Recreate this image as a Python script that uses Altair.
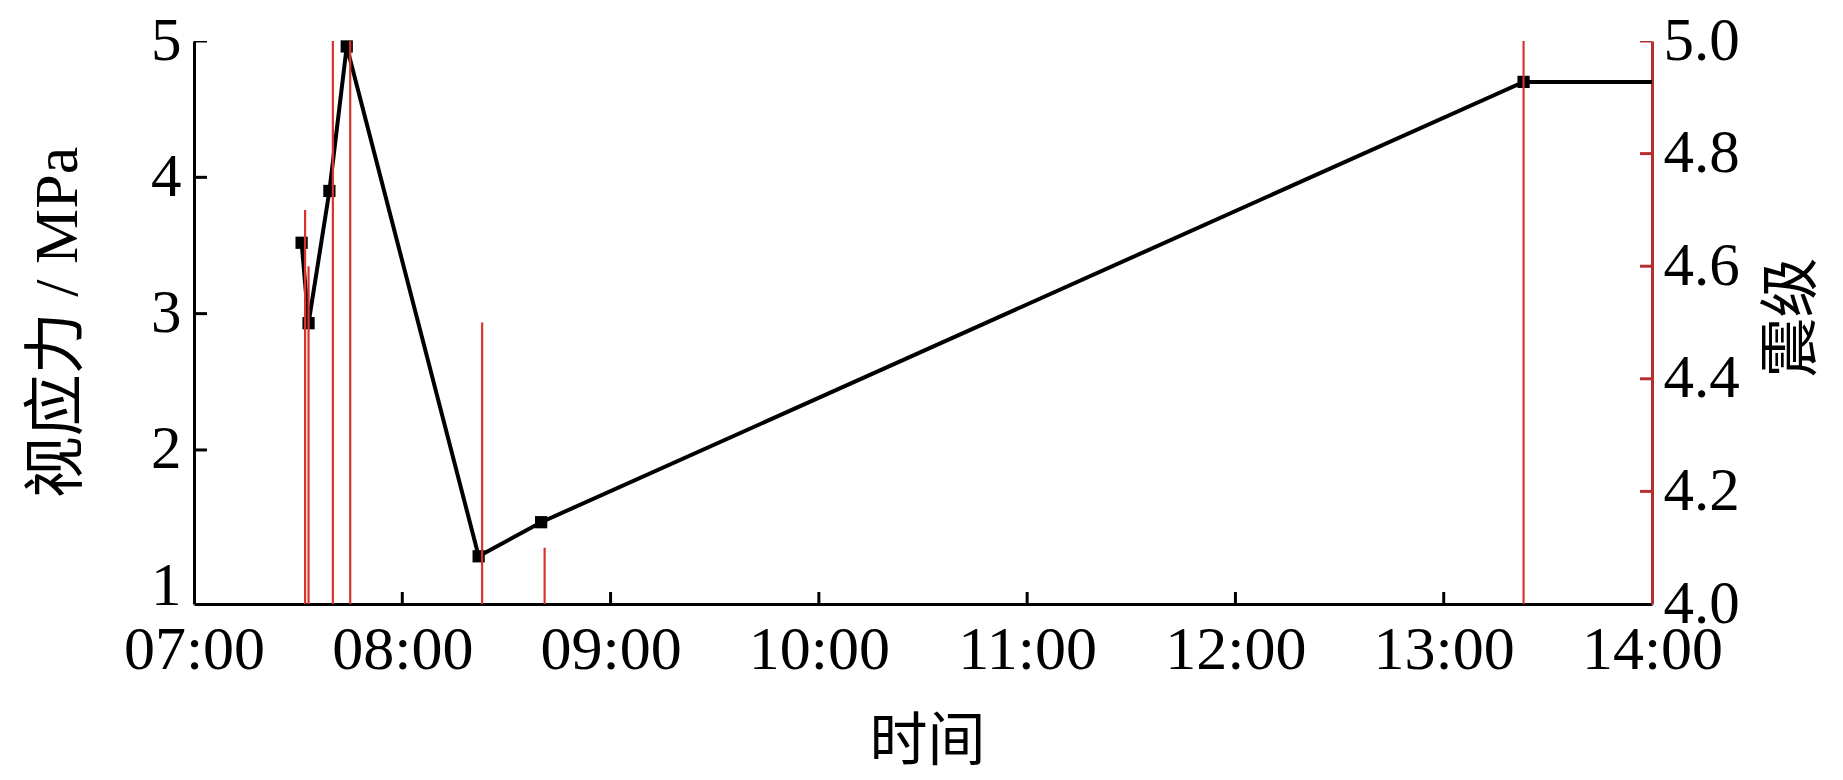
import altair as alt
import pandas as pd

# ---- data ----
stress_times = ["07:31", "07:33", "07:39", "07:44", "08:22", "08:40", "13:23", "14:00"]
stress_values = [3.52, 2.93, 3.90, 4.96, 1.22, 1.47, 4.70, 4.70]
stress_marker = [True, True, True, True, True, True, True, False]

quake_times = ["07:32", "07:33", "07:40", "07:45", "08:23", "08:41", "13:23"]
quake_mags = [4.7, 4.6, 5.0, 5.0, 4.5, 4.1, 5.0]

hour_ticks = [7, 8, 9, 10, 11, 12, 13, 14]
stress_ticks = [1, 2, 3, 4, 5]
mag_ticks = [4.0, 4.2, 4.4, 4.6, 4.8, 5.0]

STRESS_DOMAIN = [0.87, 5]
MAG_DOMAIN = [4.0, 5.0]
HOUR_DOMAIN = [7, 14]


def to_hours(s):
    h, m = s.split(":")
    return int(h) + int(m) / 60.0


df_line = pd.DataFrame({"hours": [to_hours(t) for t in stress_times],
                        "stress": stress_values, "marker": stress_marker})
df_pts = df_line[df_line["marker"]]
df_q = pd.DataFrame({"hours": [to_hours(t) for t in quake_times], "mag": quake_mags})

# inner tick marks (drawn as clipped tick marks through the scales)
df_xt = pd.DataFrame({"hours": hour_ticks[1:-1], "stress": [STRESS_DOMAIN[0]] * (len(hour_ticks) - 2)})
df_yl = pd.DataFrame({"hours": [HOUR_DOMAIN[0]] * 4, "stress": stress_ticks[1:]})
df_yr = pd.DataFrame({"hours": [HOUR_DOMAIN[1]] * 5, "mag": mag_ticks[1:]})

SERIF = "Liberation Serif"
CJK = "Liberation Serif, Noto Sans CJK SC"
DARKRED = "#b3302c"
RED = "#d9342b"

x_enc = alt.X(
    "hours:Q",
    scale=alt.Scale(domain=HOUR_DOMAIN, nice=False, zero=False),
    axis=alt.Axis(
        values=hour_ticks,
        labelExpr="(datum.value < 10 ? '0' : '') + datum.value + ':00'",
        ticks=False, grid=False, domainColor="black", domainWidth=3,
        labelFont=SERIF, labelFontSize=62, labelPadding=15, labelColor="black",
        labelFlush=False, labelOverlap=False,
        title="时间", titleFont=CJK, titleFontSize=58, titleFontWeight="normal",
        titleColor="black", titleX=733, titleY=138, titleBaseline="middle", titleAlign="center",
    ),
)

y_left = alt.Y(
    "stress:Q",
    scale=alt.Scale(domain=STRESS_DOMAIN, nice=False, zero=False),
    axis=alt.Axis(
        orient="left", values=stress_ticks, format="d",
        ticks=False, grid=False, domainColor="black", domainWidth=3,
        labelFont=SERIF, labelFontSize=61, labelPadding=13, labelColor="black",
        labelFlush=False, labelOverlap=False,
        title="视应力 / MPa", titleFont=CJK, titleFontSize=62, titleFontWeight="normal",
        titleColor="black", titleAngle=270, titleX=-137, titleY=281,
        titleBaseline="middle", titleAlign="center",
    ),
)

y_right = alt.Y(
    "mag:Q",
    scale=alt.Scale(domain=MAG_DOMAIN, nice=False, zero=False),
    axis=alt.Axis(
        orient="right", values=mag_ticks, format=".1f",
        ticks=False, grid=False, domainColor=DARKRED, domainWidth=3,
        labelFont=SERIF, labelFontSize=61, labelPadding=11, labelColor="black",
        labelFlush=False, labelOverlap=False,
        title="震级", titleFont=CJK, titleFontSize=60, titleFontWeight="normal",
        titleColor="black", titleAngle=270, titleX=140, titleY=276,
        titleBaseline="middle", titleAlign="center",
    ),
)

line = alt.Chart(df_line).mark_line(color="black", strokeWidth=4).encode(x=x_enc, y=y_left)
pts = alt.Chart(df_pts).mark_square(size=150, color="black", opacity=1).encode(x=x_enc, y=y_left)
xt = alt.Chart(df_xt).mark_tick(orient="vertical", size=24, thickness=3, color="black", opacity=1, clip=True).encode(x=x_enc, y=y_left)
ylt = alt.Chart(df_yl).mark_tick(orient="horizontal", size=26, thickness=3, color="black", opacity=1, clip=True).encode(x=x_enc, y=y_left)

left = alt.layer(line, pts, xt, ylt)

rules = alt.Chart(df_q).mark_rule(color=RED, strokeWidth=2.2).encode(x=x_enc, y=y_right, y2=alt.datum(4.0))
yrt = alt.Chart(df_yr).mark_tick(orient="horizontal", size=24, thickness=3, color=DARKRED, opacity=1, clip=True).encode(x=x_enc, y=y_right)

right = alt.layer(rules, yrt)

chart = alt.layer(left, right).resolve_scale(y="independent").properties(
    width=1458, height=563,
    background="white",
    autosize=alt.AutoSizeParams(type="none"),
    padding={"left": 186, "top": 33, "right": 183, "bottom": 168},
).configure_view(stroke=None).configure_axis(grid=False)

chart.save("out.html", embed_options={"renderer": "svg", "actions": False})
